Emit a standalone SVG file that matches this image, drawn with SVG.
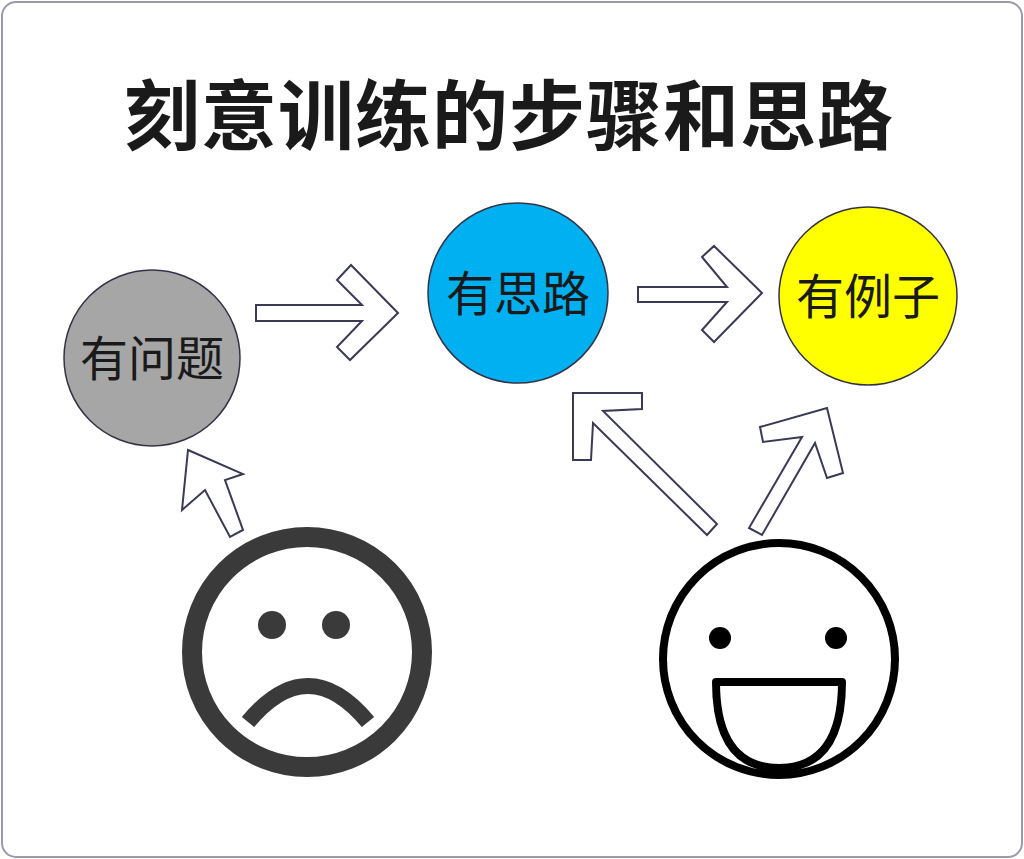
<svg xmlns="http://www.w3.org/2000/svg" width="1024" height="859" viewBox="0 0 1024 859">
<style>
.t{font-family:"Noto Sans CJK SC","Noto Sans",sans-serif;fill:#1a1a1a;text-anchor:middle}
.c{stroke:#333348;stroke-width:1.5}
.a{fill:#fff;stroke:#3a3a55;stroke-width:2;stroke-linejoin:miter}
</style>
<rect x="2" y="2" width="1020" height="855" rx="14" fill="#fff" stroke="#9a9aa8" stroke-width="2"/>
<text x="509" y="144" class="t" font-size="76" font-weight="bold" letter-spacing="1">刻意训练的步骤和思路</text>
<g id="n1"><circle cx="152" cy="358" r="88" fill="#a6a6a6" class="c"/><text x="152" y="376" class="t" font-size="48">有问题</text></g>
<g id="n2"><circle cx="518" cy="293" r="90" fill="#00b0f0" class="c"/><text x="518" y="311" class="t" font-size="48">有思路</text></g>
<g id="n3"><circle cx="868" cy="296" r="89" fill="#ffff00" class="c"/><text x="868" y="314" class="t" font-size="48">有例子</text></g>
<g id="sad" fill="none" stroke="#3a3a3a">
<circle cx="307" cy="652" r="115" stroke-width="20"/>
<circle cx="272" cy="625" r="14" fill="#3a3a3a" stroke="none"/>
<circle cx="336" cy="625" r="14" fill="#3a3a3a" stroke="none"/>
<path d="M248 722 Q308 650 368 722" stroke-width="16"/>
</g>
<g id="happy" fill="none" stroke="#000">
<circle cx="779" cy="659" r="116" stroke-width="8"/>
<circle cx="720" cy="638" r="11" fill="#000" stroke="none"/>
<circle cx="836" cy="638" r="11" fill="#000" stroke="none"/>
<path d="M716 682 L842 682 Q842 768 779 768 Q716 768 716 682 Z" stroke-width="8" stroke-linejoin="round"/>
</g>
<g id="connectors">
<path class="a" d="M256 305 L362 305 L337 280 L351 265 L398 313 L350 360 L337 347 L362 321 L256 321 Z"/>
<path class="a" d="M638 287 L727 287 L702 257 L714 246 L762 293 L714 342 L702 330 L727 302 L638 302 Z"/>
<path class="a" d="M573 393 L642 393 L642 409 L603 411 L717 524 L707 535 L593 423 L591 460 L573 460 Z"/>
<path class="a" d="M827 408 L843 473 L827 478 L815 443 L762 535 L749 528 L802 437 L763 442 L760 427 Z"/>
<path class="a" d="M188 450 L243 474 L225 480 L243 530 L230 537 L205 490 L182 510 Z"/>
</g>
</svg>
